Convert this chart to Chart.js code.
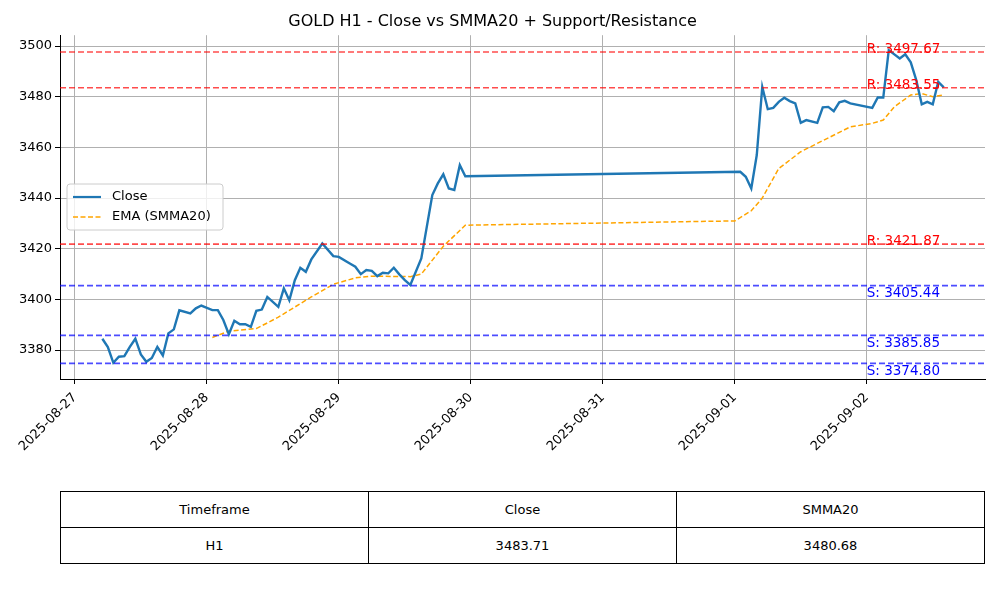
<!DOCTYPE html>
<html>
<head>
<meta charset="utf-8">
<script src="https://cdn.jsdelivr.net/npm/chart.js@4/dist/chart.umd.min.js"></script>
<style>
  body { margin:0; background:#fff; font-family:"DejaVu Sans", sans-serif; }
  #wrap { position:absolute; left:0; top:0; width:1000px; height:470px; }
  table { position:absolute; left:60px; top:491px; width:925px; border-collapse:collapse; table-layout:fixed; font-size:13px; }
  td { border:1px solid #000; text-align:center; height:35px; padding:0; }
</style>
</head>
<body>
<div id="wrap"><canvas id="c"></canvas></div>
<table>
  <tr><td>Timeframe</td><td>Close</td><td>SMMA20</td></tr>
  <tr><td>H1</td><td>3483.71</td><td>3480.68</td></tr>
</table>
<script>
// hours since 2025-08-27 00:00
const closeHours = [5,6,7,8,9,10,11,12,13,14,15,16,17,18,19,21,22,23,25,26,27,28,29,30,31,32,33,34,35,37,38,39,40,41,42,43,45,47,48,50,51,52,53,54,55,56,57,58,59,60,61,63,65,66,67,68,69,70,71,
  121,122,123,124,125,126,127,128,129,130,131,132,133,135,136,137,138,139,140,141,145,146,147,148,150,151,152,153,154,155,156,157,158];
const closeValues = [3384.5,3381.2,3375.0,3377.4,3377.6,3381.3,3384.5,3378.3,3375.4,3376.9,3381.3,3377.9,3386.6,3388.2,3395.7,3394.5,3396.5,3397.6,3395.8,3395.8,3391.9,3386.3,3391.6,3390.2,3390.2,3389.2,3395.5,3396.0,3401.0,3397.1,3404.4,3399.7,3407.6,3412.5,3410.9,3415.8,3422.1,3417.1,3416.8,3414.2,3412.9,3410.0,3411.6,3411.3,3409.2,3410.5,3410.3,3412.5,3409.9,3407.6,3405.7,3416.2,3441.2,3445.8,3449.4,3443.8,3443.2,3453.0,3448.6,
  3450.4,3448.4,3443.8,3457.0,3483.9,3475.1,3475.6,3478.0,3479.6,3478.3,3477.4,3469.7,3470.8,3469.7,3475.8,3476.0,3474.3,3477.8,3478.4,3477.4,3475.6,3479.7,3479.7,3498.4,3495.1,3496.8,3493.6,3486.6,3477.0,3478.0,3477.0,3485.9,3483.71];
const emaHours = [25,28,33,37,43,47,51,54,61,63,67,71,120,123,125,128,132,135,141,145,147,149,152,154,156,158];
const emaValues = [3385,3387.5,3388.5,3393,3401,3406,3408.5,3409.2,3409,3410,3421,3429.3,3431,3435,3440,3451.7,3458.3,3461.6,3468.1,3469.5,3470.8,3476,3480.7,3481.3,3480,3480.68];
const resistance = [3497.67, 3483.55, 3421.87];
const support = [3405.44, 3385.85, 3374.80];
const dayLabels = ["2025-08-27","2025-08-28","2025-08-29","2025-08-30","2025-08-31","2025-09-01","2025-09-02"];

const closePts = closeHours.map((h, i) => ({ x: h, y: closeValues[i] }));
const emaPts = emaHours.map((h, i) => ({ x: h, y: emaValues[i] }));

// support / resistance lines, their labels and the legend box
const overlay = {
  id: 'overlay',
  afterDatasetsDraw(chart) {
    const { ctx, chartArea: a, scales: { x, y } } = chart;
    ctx.save();
    ctx.beginPath(); ctx.rect(a.left, a.top, a.right - a.left, a.bottom - a.top); ctx.clip();
    const levels = resistance.map(v => [v, 'R', 'rgba(255,0,0,0.7)', 'red'])
      .concat(support.map(v => [v, 'S', 'rgba(0,0,255,0.7)', 'blue']));
    ctx.lineWidth = 1.7; ctx.setLineDash([6, 3]);
    levels.forEach(([v, , c]) => {
      const py = y.getPixelForValue(v);
      ctx.strokeStyle = c; ctx.beginPath(); ctx.moveTo(a.left, py); ctx.lineTo(a.right, py); ctx.stroke();
    });
    ctx.restore();
    ctx.save();
    ctx.font = '13.5px "DejaVu Sans"';
    levels.forEach(([v, t, , c]) => {
      ctx.fillStyle = c;
      const py = y.getPixelForValue(v);
      if (t === 'R') { ctx.textBaseline = 'alphabetic'; ctx.fillText(t + ': ' + v.toFixed(2), x.getPixelForValue(144), py + 1); }
      else { ctx.textBaseline = 'top'; ctx.fillText(t + ': ' + v.toFixed(2), x.getPixelForValue(144), py + 1); }
    });
    // legend
    const lx = 67, ly = 184;
    ctx.fillStyle = 'rgba(255,255,255,0.8)'; ctx.strokeStyle = '#ccc'; ctx.lineWidth = 1; ctx.setLineDash([]);
    ctx.beginPath(); ctx.roundRect(lx, ly, 156, 46, 3); ctx.fill(); ctx.stroke();
    ctx.lineWidth = 2.2; ctx.strokeStyle = '#1f77b4';
    ctx.beginPath(); ctx.moveTo(lx + 6, ly + 13); ctx.lineTo(lx + 34, ly + 13); ctx.stroke();
    ctx.lineWidth = 1.5; ctx.strokeStyle = '#ffa500'; ctx.setLineDash([5, 2.5]);
    ctx.beginPath(); ctx.moveTo(lx + 6, ly + 33); ctx.lineTo(lx + 34, ly + 33); ctx.stroke();
    ctx.fillStyle = '#000'; ctx.textBaseline = 'middle'; ctx.font = '13px "DejaVu Sans"';
    ctx.fillText('Close', lx + 45, ly + 13);
    ctx.fillText('EMA (SMMA20)', lx + 45, ly + 33);
    ctx.restore();
  }
};

new Chart(document.getElementById('c'), {
  type: 'line',
  data: {
    datasets: [
      { label: 'Close', data: closePts, borderColor: '#1f77b4', borderWidth: 2.4, pointRadius: 0, tension: 0 },
      { label: 'EMA (SMMA20)', data: emaPts, borderColor: '#ffa500', borderWidth: 1.5, borderDash: [5, 2.5], pointRadius: 0, tension: 0 }
    ]
  },
  options: {
    responsive: true, maintainAspectRatio: false, animation: false,
    layout: { padding: { left: 0, right: 15, top: 0, bottom: 0 } },
    plugins: {
      legend: { display: false }, tooltip: { enabled: false },
      title: { display: true, text: 'GOLD H1 - Close vs SMMA20 + Support/Resistance', color: '#000',
        font: { family: 'DejaVu Sans', size: 16, weight: 'normal' }, padding: { top: 12, bottom: 4 } }
    },
    scales: {
      x: {
        type: 'linear', min: -2.7, max: 165.5,
        afterBuildTicks: s => { s.ticks = dayLabels.map((d, i) => ({ value: i * 24 })); },
        afterFit: s => { s.height = 91; },
        grid: { color: '#b0b0b0', tickColor: '#000', tickLength: 5 },
        border: { color: '#000' },
        ticks: { minRotation: 45, maxRotation: 45, color: '#000', padding: 6,
          font: { family: 'DejaVu Sans', size: 13 }, callback: v => dayLabels[Math.round(v / 24)] || '' }
      },
      y: {
        min: 3368.6, max: 3504.3,
        afterBuildTicks: s => { s.ticks = [3380, 3400, 3420, 3440, 3460, 3480, 3500].map(v => ({ value: v })); },
        afterFit: s => { s.width = 60; },
        grid: { color: '#b0b0b0', tickColor: '#000', tickLength: 5 },
        border: { color: '#000' },
        ticks: { color: '#000', font: { family: 'DejaVu Sans', size: 13 }, callback: v => v.toFixed(0) }
      }
    }
  },
  plugins: [overlay]
});
</script>
</body>
</html>
